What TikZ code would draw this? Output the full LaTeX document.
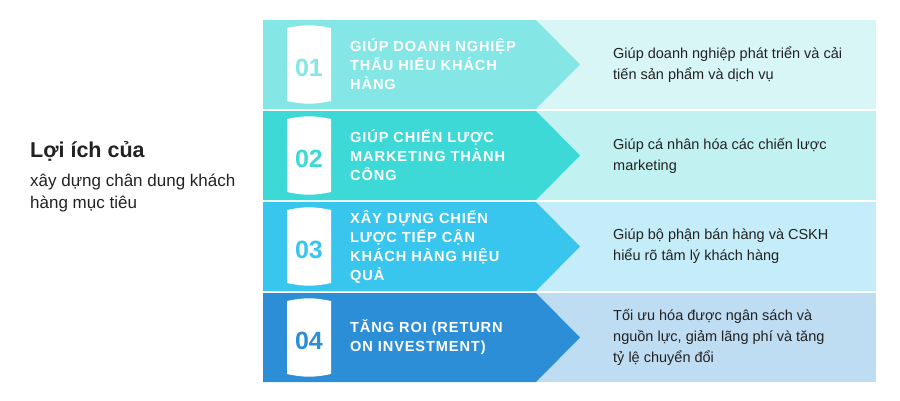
\documentclass[tikz,border=0pt]{standalone}
\usepackage{fontspec}
\setmainfont{Liberation Sans}
\definecolor{darkA}{HTML}{85E6E6}\definecolor{lightA}{HTML}{D8F6F6}
\definecolor{darkB}{HTML}{3DD9D6}\definecolor{lightB}{HTML}{C1F1F1}
\definecolor{darkC}{HTML}{38C6EE}\definecolor{lightC}{HTML}{C4ECF9}
\definecolor{darkD}{HTML}{2C8ED6}\definecolor{lightD}{HTML}{BEDCF2}
\definecolor{ink}{HTML}{222222}
\tikzset{
  heading/.style={anchor=west,text=white,font=\fontsize{14.6}{19}\selectfont\bfseries\addfontfeature{LetterSpace=6},align=left,inner sep=0pt},
  detail/.style={anchor=west,text=ink,font=\fontsize{14.5}{21}\selectfont,align=left,inner sep=0pt},
  badge/.style={fill=white,draw=none}
}
\begin{document}
\begin{tikzpicture}[x=1pt,y=-1pt]
\useasboundingbox (0,0) rectangle (900,400);
\node[anchor=west,text=ink,font=\fontsize{21.5}{24}\selectfont\bfseries,inner sep=0pt] (title) at (30,151) {Lợi ích của};
\node[anchor=north west,text=ink,font=\fontsize{17}{22}\selectfont,align=left,inner sep=0pt] (sub) at (30,174) {xây dựng chân dung khách\\hàng mục tiêu};

\foreach \i/\dk/\lt/\num/\head/\txt in {
 0/darkA/lightA/01/{GIÚP DOANH NGHIỆP\\THẤU HIỂU KHÁCH\\HÀNG}/{Giúp doanh nghiệp phát triển và cải\\tiến sản phẩm và dịch vụ},
 1/darkB/lightB/02/{GIÚP CHIẾN LƯỢC\\MARKETING THÀNH\\CÔNG}/{Giúp cá nhân hóa các chiến lược\\marketing},
 2/darkC/lightC/03/{XÂY DỰNG CHIẾN\\LƯỢC TIẾP CẬN\\KHÁCH HÀNG HIỆU\\QUẢ}/{Giúp bộ phận bán hàng và CSKH\\hiểu rõ tâm lý khách hàng},
 3/darkD/lightD/04/{TĂNG ROI (RETURN\\ON INVESTMENT)}/{Tối ưu hóa được ngân sách và\\nguồn lực, giảm lãng phí và tăng\\tỷ lệ chuyển đổi}}{
  \pgfmathsetmacro{\top}{20+91*\i}
  \pgfmathsetmacro{\bot}{\top+89}
  \pgfmathsetmacro{\mid}{\top+44.5}
  % light panel, then arrow band over it
  \fill[\lt] (536,\top) rectangle (876,\bot);
  \fill[\dk] (263,\top) -- (536,\top) -- (580,\mid) -- (536,\bot) -- (263,\bot) -- cycle;
  \fill[badge] (287,\top+8) to[bend left=12] (331,\top+8) -- (331,\bot-8) to[bend left=12] (287,\bot-8) -- cycle;
  \node[text=\dk,font=\fontsize{25}{28}\selectfont\bfseries] (num\i) at (309,\mid+3) {\num};
  \node[heading] (head\i) at (350,\mid) {\head};
  \node[detail] (txt\i) at (613,\mid) {\txt};
}
\end{tikzpicture}
\end{document}
